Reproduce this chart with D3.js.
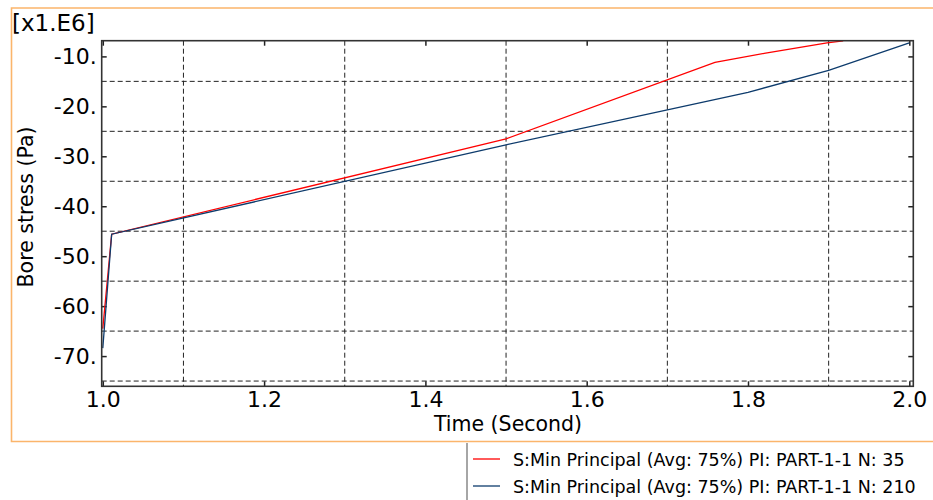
<!DOCTYPE html>
<html>
<head>
<meta charset="utf-8">
<title>Bore stress</title>
<script src="https://d3js.org/d3.v7.min.js"></script>
<style>
  body { margin: 0; background: #fff; }
  text { font-family: "DejaVu Sans", Verdana, sans-serif; fill: #000; }
</style>
</head>
<body>
<script>
// series values (stress in 1e6 Pa)
const timeRed = [1.0, 1.011, 1.5, 1.759, 1.82, 1.898, 1.918];
const stressRed = [-64.5, -45.6, -26.5, -11.2, -9.4, -7.3, -6.9];
const timeBlue = [1.0, 1.011, 1.5, 1.7, 1.8, 1.9, 2.0];
const stressBlue = [-68.4, -45.6, -27.7, -20.7, -17.2, -12.8, -7.3];

const seriesNames = [
  "S:Min Principal (Avg: 75%) PI: PART-1-1 N: 35",
  "S:Min Principal (Avg: 75%) PI: PART-1-1 N: 210"
];
const seriesColors = ["#ff0000", "#0d3b6c"];

// tick labels and grid positions
const xTicks = [1.0, 1.2, 1.4, 1.6, 1.8, 2.0];
const yTicks = [-10, -20, -30, -40, -50, -60, -70];
const xGrid = [1.1, 1.3, 1.5, 1.7, 1.9];
const yGrid = [-15, -25, -35, -45, -55, -65, -75];

const W = 933, H = 500;
const plot = { left: 101.7, right: 913.3, top: 40.7, bottom: 386.3 };

const svg = d3.select("body").append("svg")
    .attr("width", W)
    .attr("height", H);

const x = d3.scaleLinear()
    .domain([0.99864, 2.00496])
    .range([plot.left, plot.right]);

const y = d3.scaleLinear()
    .domain([-76.05, -6.857])
    .range([plot.bottom, plot.top]);

// orange outer frame
svg.append("path")
    .attr("d", `M${W + 5},8 H11.5 V441.5 H${W + 5}`)
    .attr("fill", "none")
    .attr("stroke", "#fbb56b")
    .attr("stroke-width", 1.6);

// grid
svg.append("g").selectAll("line")
    .data(yGrid)
    .join("line")
    .attr("x1", plot.left).attr("x2", plot.right)
    .attr("y1", d => y(d)).attr("y2", d => y(d))
    .attr("stroke", "#222")
    .attr("stroke-width", 1)
    .attr("stroke-dasharray", "5,3");

svg.append("g").selectAll("line")
    .data(xGrid)
    .join("line")
    .attr("x1", d => x(d)).attr("x2", d => x(d))
    .attr("y1", plot.top).attr("y2", plot.bottom)
    .attr("stroke", "#222")
    .attr("stroke-width", 1)
    .attr("stroke-dasharray", "5,3");

// axes (ticks point inwards)
const fmtX = d => d.toFixed(1);
const fmtY = d => String(d) + ".";   // plain hyphen, trailing dot like Abaqus

const gx = svg.append("g")
    .attr("transform", `translate(0,${plot.bottom})`)
    .call(d3.axisBottom(x).tickValues(xTicks).tickSize(-5).tickPadding(5).tickFormat(fmtX));
const gy = svg.append("g")
    .attr("transform", `translate(${plot.left},0)`)
    .call(d3.axisLeft(y).tickValues(yTicks).tickSize(-5).tickPadding(5).tickFormat(fmtY));
const gt = svg.append("g")
    .attr("transform", `translate(0,${plot.top})`)
    .call(d3.axisTop(x).tickValues(xTicks).tickSize(-5).tickFormat(""));
const gr = svg.append("g")
    .attr("transform", `translate(${plot.right},0)`)
    .call(d3.axisRight(y).tickValues(yTicks).tickSize(-5).tickFormat(""));

[gx, gy, gt, gr].forEach(g => {
  g.select(".domain").remove();
  g.selectAll(".tick line").attr("stroke", "#222").attr("stroke-width", 1.5);
  g.selectAll("text").style("font-family", "DejaVu Sans, sans-serif").attr("font-size", 22).attr("fill", "#000");
});

// lines
const line = d3.line()
    .x(d => x(d[0]))
    .y(d => y(d[1]));

const redData = d3.zip(timeRed, stressRed);
const blueData = d3.zip(timeBlue, stressBlue);

svg.append("path")
    .datum(redData)
    .attr("d", line)
    .attr("fill", "none")
    .attr("stroke", seriesColors[0])
    .attr("stroke-width", 1.3);

svg.append("path")
    .datum(blueData)
    .attr("d", line)
    .attr("fill", "none")
    .attr("stroke", seriesColors[1])
    .attr("stroke-width", 1.3);

// plot frame
svg.append("rect")
    .attr("x", plot.left).attr("y", plot.top)
    .attr("width", plot.right - plot.left)
    .attr("height", plot.bottom - plot.top)
    .attr("fill", "none")
    .attr("stroke", "#333")
    .attr("stroke-width", 1.6);

// titles
svg.append("text")
    .attr("x", 12).attr("y", 31)
    .attr("font-size", 23)
    .text("[x1.E6]");

svg.append("text")
    .attr("transform", "translate(33,207) rotate(-90)")
    .attr("text-anchor", "middle")
    .attr("font-size", 20.5)
    .text("Bore stress (Pa)");

svg.append("text")
    .attr("x", 508).attr("y", 431)
    .attr("text-anchor", "middle")
    .attr("font-size", 20.5)
    .text("Time (Second)");

// legend
svg.append("line")
    .attr("x1", 467).attr("x2", 467)
    .attr("y1", 443).attr("y2", H)
    .attr("stroke", "#888")
    .attr("stroke-width", 1.5);

const legend = svg.append("g").selectAll("g")
    .data(seriesNames)
    .join("g")
    .attr("transform", (d, i) => `translate(0,${459 + i * 27})`);

legend.append("line")
    .attr("x1", 473).attr("x2", 500)
    .attr("stroke", (d, i) => seriesColors[i])
    .attr("stroke-width", 1.3);

legend.append("text")
    .attr("x", 513).attr("y", 7)
    .attr("font-size", 17.5)
    .text(d => d);
</script>
</body>
</html>
